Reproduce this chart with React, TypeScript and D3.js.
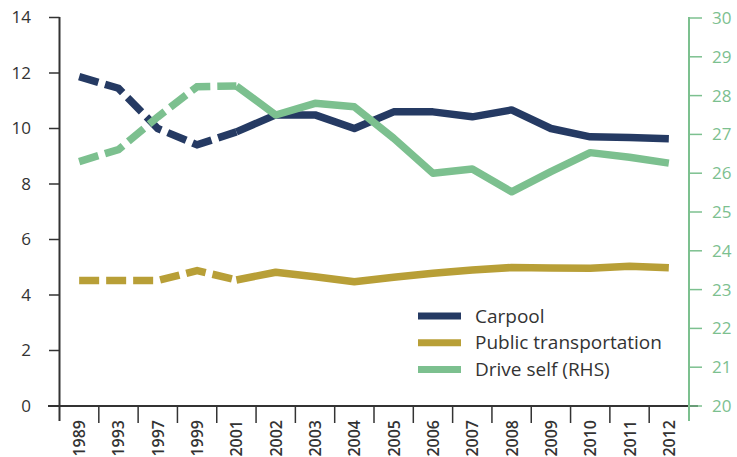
import React from "react";
import * as d3 from "d3";

const years = ["1989","1993","1997","1999","2001","2002","2003","2004","2005","2006","2007","2008","2009","2010","2011","2012"];
const carpool = [11.87,11.45,10.0,9.41,9.88,10.49,10.49,10.0,10.6,10.6,10.42,10.67,10.0,9.7,9.68,9.63];
const publicTransport = [4.52,4.52,4.52,4.88,4.54,4.82,4.66,4.48,4.64,4.78,4.9,4.99,4.97,4.96,5.04,4.98];
const driveSelf = [26.3,26.61,27.45,28.23,28.25,27.5,27.8,27.71,26.9,26.0,26.11,25.52,26.04,26.53,26.41,26.26];
const leftTicks = [0,2,4,6,8,10,12,14];
const rightTicks = [20,21,22,23,24,25,26,27,28,29,30];
const dashedUntil = 4; // index of 2001: dashed before, solid after

const W = 737, H = 457;
const NAVY = "#253a63", GOLD = "#b89f37", GREEN = "#7cc08f", AXIS = "#333333";
const FONT = "'Open Sans', sans-serif";

export default function App() {
  const x = d3.scaleBand<string>().domain(years).range([59.5, 688.5]);
  const yL = d3.scaleLinear().domain([0, 14]).range([406, 17.5]);
  const yR = d3.scaleLinear().domain([20, 30]).range([406, 18]);
  const cx = (i: number) => (x(years[i]) as number) + x.bandwidth() / 2;

  const series = [
    { name: "Carpool", values: carpool, y: yL, color: NAVY },
    { name: "Public transportation", values: publicTransport, y: yL, color: GOLD },
    { name: "Drive self (RHS)", values: driveSelf, y: yR, color: GREEN },
  ];

  const mkLine = (ys: d3.ScaleLinear<number, number>) =>
    d3.line<[number, number]>().x(d => cx(d[0])).y(d => ys(d[1]));

  return (
    <svg width={W} height={H} style={{ position: "absolute", left: 0, top: 0, background: "#fff" }}>
      {/* x axis */}
      <line x1={48} x2={698} y1={406} y2={406} stroke={AXIS} strokeWidth={2} />
      {years.map((yr, i) => (
        <g key={yr}>
          {i > 0 && (
            <line x1={x(yr) as number} x2={x(yr) as number} y1={406} y2={423} stroke={AXIS} strokeWidth={1.5} />
          )}
          <text
            transform={`translate(${cx(i) + 6},420) rotate(-90)`}
            textAnchor="end"
            fontFamily={FONT}
            fontSize={16}
            fontWeight={600}
            fill={AXIS}
          >
            {yr}
          </text>
        </g>
      ))}
      {/* left axis */}
      <line x1={59.5} x2={59.5} y1={17} y2={421} stroke={AXIS} strokeWidth={2} />
      {leftTicks.map(t => (
        <g key={t}>
          <line x1={49} x2={59.5} y1={yL(t)} y2={yL(t)} stroke={AXIS} strokeWidth={1.5} />
          <text x={31} y={yL(t)} dy="0.35em" textAnchor="end" fontFamily={FONT} fontSize={17} fill={AXIS}>
            {t}
          </text>
        </g>
      ))}
      {/* right axis */}
      <line x1={689} x2={689} y1={17} y2={421} stroke={GREEN} strokeWidth={2} />
      {rightTicks.map(t => (
        <g key={t}>
          <line x1={689} x2={702} y1={yR(t)} y2={yR(t)} stroke={GREEN} strokeWidth={1.5} />
          <text x={712} y={yR(t)} dy="0.35em" textAnchor="start" fontFamily={FONT} fontSize={17} fill={GREEN}>
            {t}
          </text>
        </g>
      ))}
      {/* series */}
      {series.map(s => {
        const pts: [number, number][] = s.values.map((v, i) => [i, v]);
        const line = mkLine(s.y);
        return (
          <g key={s.name}>
            <path d={line(pts.slice(0, dashedUntil + 1)) || ""} fill="none" stroke={s.color} strokeWidth={7.5} strokeDasharray="20,7" />
            <path d={line(pts.slice(dashedUntil)) || ""} fill="none" stroke={s.color} strokeWidth={7.5} strokeLinejoin="round" />
          </g>
        );
      })}
      {/* legend */}
      {series.map((s, i) => {
        const ly = 316 + i * 26.8;
        return (
          <g key={s.name}>
            <line x1={418} x2={461} y1={ly} y2={ly} stroke={s.color} strokeWidth={7} />
            <text x={475} y={ly} dy="0.35em" fontFamily={FONT} fontSize={19} fill={AXIS}>
              {s.name}
            </text>
          </g>
        );
      })}
    </svg>
  );
}
